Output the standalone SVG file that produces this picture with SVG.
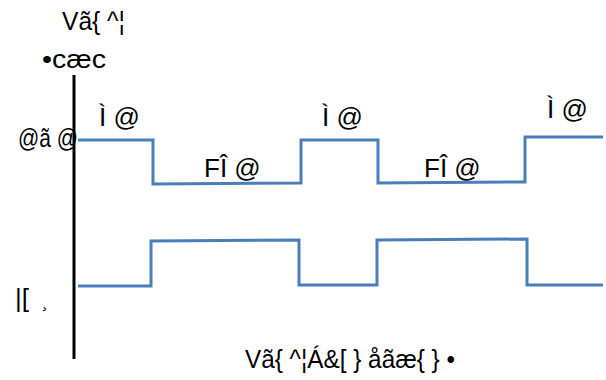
<svg xmlns="http://www.w3.org/2000/svg" width="606" height="380" viewBox="0 0 606 380">
<style>
.t{font-family:"Liberation Sans",Arial,sans-serif;font-size:26px;fill:#000}
.w{fill:none;stroke:#4a7ebb;stroke-width:3}
.ax{stroke:#000;stroke-width:3}
</style>
<rect width="606" height="380" fill="#fff"/>
<g id="connectors">
<line id="axis" class="ax" x1="74" y1="75" x2="74" y2="359"/>
<polyline id="wave-top" class="w" points="78,140 153,140 153,184 301,183 301,140 378,140 378,183 525,182 525,137 603,137"/>
<polyline id="wave-bottom" class="w" points="78,286 151,286 151,241 299,240 299,285 377,285 377,240 527,239 527,285 603,285"/>
</g>
<g id="label-title"><text class="t" x="62" y="30" textLength="63" lengthAdjust="spacingAndGlyphs">Vã{ ^¦</text></g>
<g id="label-sub"><text class="t" x="42" y="68" textLength="64" lengthAdjust="spacingAndGlyphs">•cæc</text></g>
<g id="label-high"><text class="t" x="18" y="147" textLength="60" lengthAdjust="spacingAndGlyphs">@ã @</text></g>
<g id="label-low"><text class="t" x="15" y="307">|[<tspan font-size="16" x="42">¸</tspan></text></g>
<g id="label-on1"><text class="t" x="99" y="126">Ì @</text></g>
<g id="label-off1"><text class="t" x="204" y="177">FÎ @</text></g>
<g id="label-on2"><text class="t" x="322" y="126">Ì @</text></g>
<g id="label-off2"><text class="t" x="424" y="177">FÎ @</text></g>
<g id="label-on3"><text class="t" x="547" y="118">Ì @</text></g>
<g id="label-axis"><text class="t" x="245" y="368" textLength="210" lengthAdjust="spacingAndGlyphs">Vã{  ^¦Á&amp;[ } åãæ{ } •</text></g>
</svg>
